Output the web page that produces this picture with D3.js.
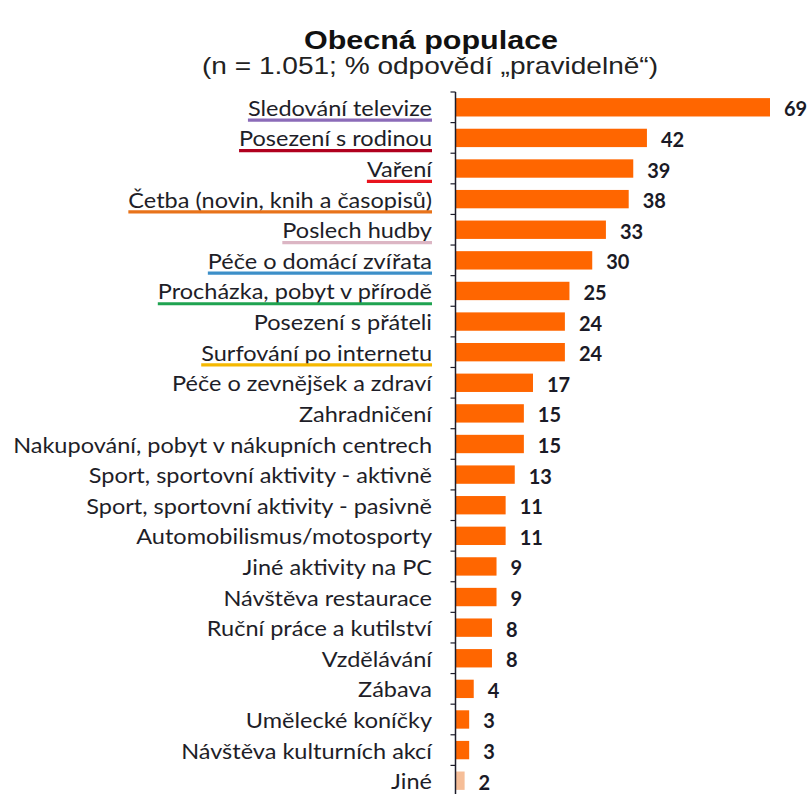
<!DOCTYPE html>
<html>
<head>
<meta charset="utf-8">
<script src="https://cdn.jsdelivr.net/npm/d3@7"></script>
<style>
  html, body { margin: 0; padding: 0; background: #ffffff; }
  svg { display: block; }
</style>
</head>
<body>
<script>
// Leisure activities done "regularly" – share of respondents (%)
const categories = [
  "Sledování televize",
  "Posezení s rodinou",
  "Vaření",
  "Četba (novin, knih a časopisů)",
  "Poslech hudby",
  "Péče o domácí zvířata",
  "Procházka, pobyt v přírodě",
  "Posezení s přáteli",
  "Surfování po internetu",
  "Péče o zevnějšek a zdraví",
  "Zahradničení",
  "Nakupování, pobyt v nákupních centrech",
  "Sport, sportovní aktivity - aktivně",
  "Sport, sportovní aktivity - pasivně",
  "Automobilismus/motosporty",
  "Jiné aktivity na PC",
  "Návštěva restaurace",
  "Ruční práce a kutilství",
  "Vzdělávání",
  "Zábava",
  "Umělecké koníčky",
  "Návštěva kulturních akcí",
  "Jiné"
];
const values = [69, 42, 39, 38, 33, 30, 25, 24, 24, 17, 15, 15, 13, 11, 11, 9, 9, 8, 8, 4, 3, 3, 2];

// Coloured underlines marking selected activities
const underlined = [
  ["Sledování televize", "#8b6bb8"],
  ["Posezení s rodinou", "#b0001e"],
  ["Vaření", "#e8141e"],
  ["Četba (novin, knih a časopisů)", "#e8731a"],
  ["Poslech hudby", "#dcb6c4"],
  ["Péče o domácí zvířata", "#3c8fc8"],
  ["Procházka, pobyt v přírodě", "#1fa350"],
  ["Surfování po internetu", "#f5b800"]
];

const title = "Obecná populace";
const subtitle = "(n = 1.051; % odpovědí „pravidelně“)";

const W = 808, H = 794;
const axisX = 455.5;
const SX = 1.12;      // horizontal stretch of category labels
const TITLE_SX = 1.22;

const svg = d3.select("body").append("svg")
  .attr("width", W).attr("height", H);

const x = d3.scaleLinear().domain([0, 69]).range([axisX, 770]);
const y = d3.scaleBand().domain(categories).range([92, 796])
  .paddingInner(0.4).paddingOuter(0.2);
const step = y.step();

// Title block
svg.append("text")
  .attr("transform", `translate(431,48.5) scale(${TITLE_SX},1)`)
  .attr("text-anchor", "middle")
  .style("font-family", "'Liberation Sans', Arial, sans-serif")
  .style("font-weight", "bold").style("font-size", "25px")
  .attr("fill", "#111").text(title);
svg.append("text")
  .attr("transform", `translate(430,74) scale(${TITLE_SX},1)`)
  .attr("text-anchor", "middle")
  .style("font-family", "'Liberation Sans', Arial, sans-serif")
  .style("font-size", "23px")
  .attr("fill", "#222").text(subtitle);

// Bars
svg.append("g").selectAll("rect")
  .data(categories)
  .join("rect")
  .attr("x", axisX)
  .attr("y", d => y(d))
  .attr("width", (d, i) => x(values[i]) - axisX)
  .attr("height", y.bandwidth())
  .attr("fill", d => d === "Jiné" ? "#f6be98" : "#ff6600");

// Value labels
svg.append("g").selectAll("text")
  .data(categories)
  .join("text")
  .attr("x", (d, i) => x(values[i]) + 14)
  .attr("y", d => y(d) + y.bandwidth() / 2 + 9)
  .style("font-family", "Lato, sans-serif")
  .style("font-weight", "bold").style("font-size", "20px")
  .attr("fill", "#1a1a26")
  .text((d, i) => values[i]);

// Category labels (right aligned to the axis)
const labelRight = 432;
const labels = svg.append("g").selectAll("text")
  .data(categories)
  .join("text")
  .attr("transform", d => `translate(${labelRight},${y(d) + y.bandwidth() / 2 + 8.5}) scale(${SX},1)`)
  .attr("text-anchor", "end")
  .style("font-family", "Lato, sans-serif")
  .style("font-size", "21px")
  .attr("fill", "#1e1e28")
  .text(d => d);

// Underlines under highlighted labels
const ulMap = new Map(underlined);
labels.each(function(d) {
  if (!ulMap.has(d)) return;
  const w = this.getComputedTextLength() * SX;
  const base = y(d) + y.bandwidth() / 2 + 8.5;
  svg.append("line")
    .attr("x1", labelRight - w).attr("x2", labelRight)
    .attr("y1", base + 4.3).attr("y2", base + 4.3)
    .attr("stroke", ulMap.get(d)).attr("stroke-width", 3.2);
});

// Category axis with ticks at band boundaries
const axis = svg.append("g").attr("stroke", "#1c1c2a");
axis.append("line")
  .attr("x1", axisX).attr("x2", axisX)
  .attr("y1", 92).attr("y2", H)
  .attr("stroke-width", 1.5);
axis.selectAll("line.tick")
  .data(d3.range(categories.length + 1))
  .join("line").attr("class", "tick")
  .attr("x1", axisX - 5).attr("x2", axisX)
  .attr("y1", i => 92 + i * step).attr("y2", i => 92 + i * step)
  .attr("stroke-width", 1.2);
</script>
</body>
</html>
